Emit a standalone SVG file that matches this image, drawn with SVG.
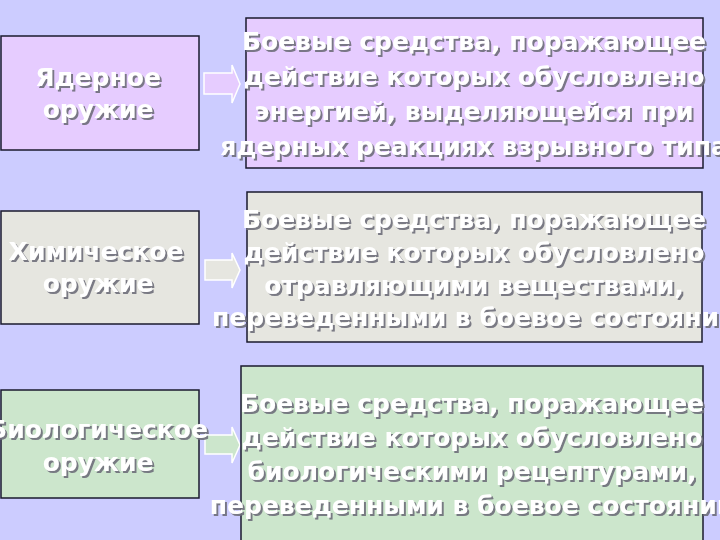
<svg xmlns="http://www.w3.org/2000/svg" width="720" height="540" viewBox="0 0 720 540">
<defs>
<style>
.box{stroke:#1a1a2e;stroke-width:1.5}
.lil{fill:#e6ccff}
.gry{fill:#e6e6e0}
.grn{fill:#cce6cc}
.t{font-family:"DejaVu Sans",Verdana,sans-serif;font-weight:bold;font-size:25px;fill:#ffffff;text-anchor:middle;filter:url(#sh)}
.arr{stroke:#ffffff;stroke-width:1.5}
</style>
<filter id="sh" x="-10%" y="-30%" width="120%" height="160%">
<feDropShadow dx="2" dy="2" stdDeviation="0.6" flood-color="#6e6e7a" flood-opacity="0.9"/>
</filter>
</defs>
<rect width="720" height="540" fill="#ccccff"/>
<g id="connectors">
<polygon class="arr lil" points="204,73 232,73 232,65 240,84 232,103 232,94 204,94"/>
<polygon class="arr gry" points="205,260 232,260 232,253 240,270 232,288 232,280 205,280"/>
<polygon class="arr grn" points="205,435 232,435 232,427 240,445 232,463 232,454 205,454"/>
</g>
<g id="nuclear">
<rect class="box lil" x="1" y="36" width="198" height="114"/>
<text class="t" x="98" y="86">Ядерное</text>
<text class="t" x="98" y="118">оружие</text>
</g>
<g id="nuclear-def">
<rect class="box lil" x="246" y="18" width="457" height="150"/>
<text class="t" x="474" y="50">Боевые средства, поражающее</text>
<text class="t" x="474" y="85">действие которых обусловлено</text>
<text class="t" x="474" y="120">энергией, выделяющейся при</text>
<text class="t" x="474" y="155">ядерных реакциях взрывного типа</text>
</g>
<g id="chemical">
<rect class="box gry" x="1" y="211" width="198" height="113"/>
<text class="t" x="96" y="260">Химическое</text>
<text class="t" x="98" y="292">оружие</text>
</g>
<g id="chemical-def">
<rect class="box gry" x="247" y="192" width="455" height="150"/>
<text class="t" x="474" y="228">Боевые средства, поражающее</text>
<text class="t" x="474" y="261">действие которых обусловлено</text>
<text class="t" x="474" y="294">отравляющими веществами,</text>
<text class="t" x="474" y="326">переведенными в боевое состояние</text>
</g>
<g id="biological">
<rect class="box grn" x="1" y="390" width="198" height="108"/>
<text class="t" x="98" y="438">Биологическое</text>
<text class="t" x="98" y="471">оружие</text>
</g>
<g id="biological-def">
<rect class="box grn" x="241" y="366" width="462" height="190"/>
<text class="t" x="472" y="412">Боевые средства, поражающее</text>
<text class="t" x="472" y="446">действие которых обусловлено</text>
<text class="t" x="472" y="480">биологическими рецептурами,</text>
<text class="t" x="472" y="514">переведенными в боевое состоянии</text>
</g>
</svg>
